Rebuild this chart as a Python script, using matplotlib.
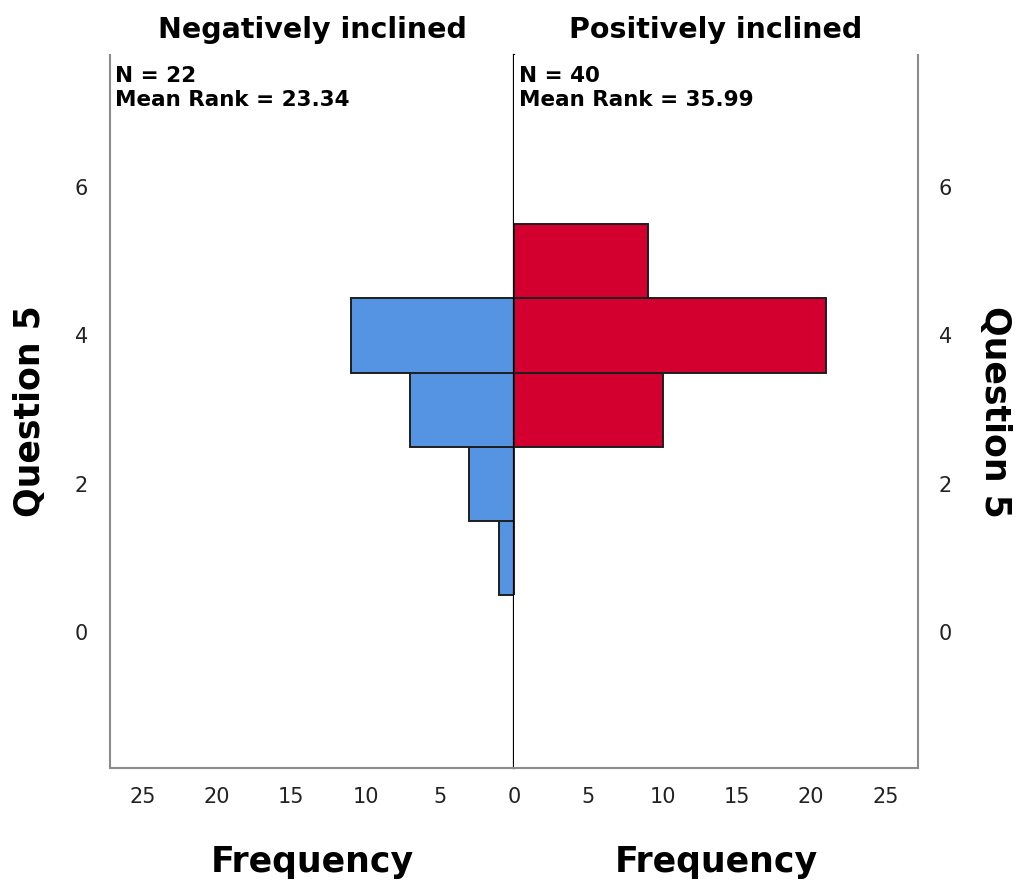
import matplotlib
matplotlib.use("Agg")
import matplotlib.pyplot as plt

# Question 5 scores and frequencies per group
scores = [1, 2, 3, 4, 5]
neg_counts = [1, 3, 7, 11, 0]
pos_counts = [0, 0, 10, 21, 9]
groups = ["Negatively inclined", "Positively inclined"]
group_notes = ["N = 22\nMean Rank = 23.34", "N = 40\nMean Rank = 35.99"]
x_ticks_left = [5, 10, 15, 20, 25]
x_ticks_right = [0, 5, 10, 15, 20, 25]
y_ticks = [0, 2, 4, 6]

blue = "#5594e3"
red = "#d3002f"
grey = "#8c8c8c"

plt.rcParams["font.family"] = "DejaVu Sans"

fig = plt.figure(figsize=(10.18, 8.85), dpi=100)
left, mid, right = 110 / 1018, 514 / 1018, 918 / 1018
bottom, top = 1 - 768 / 885, 1 - 55 / 885
axl = fig.add_axes([left, bottom, mid - left, top - bottom])
axr = fig.add_axes([mid, bottom, right - mid, top - bottom])

xmax = 27.2
ylim = (-1.83, 7.78)

axl.barh(scores, neg_counts, height=1.0, color=blue, edgecolor="#1e1e1e", linewidth=1.4)
axr.barh(scores, pos_counts, height=1.0, color=red, edgecolor="#1e1e1e", linewidth=1.4)

axl.set_xlim(xmax, 0)
axr.set_xlim(0, xmax)
axl.set_xticks(x_ticks_left)
axr.set_xticks(x_ticks_right)
for ax in (axl, axr):
    ax.set_ylim(*ylim)
    ax.set_yticks(y_ticks)
    ax.tick_params(length=0, labelsize=15, colors="#222222")
    ax.tick_params(axis="x", pad=14)
    ax.spines["top"].set_visible(False)
    ax.spines["bottom"].set_color(grey)
    ax.spines["bottom"].set_linewidth(1.5)
    ax.set_xlabel("Frequency", fontsize=25, fontweight="bold", labelpad=27)

axl.spines["left"].set_color(grey)
axl.spines["left"].set_linewidth(1.5)
axl.spines["right"].set_color("black")
axl.spines["right"].set_linewidth(1.6)
axl.tick_params(axis="y", pad=16)
axl.set_ylabel("Question 5", fontsize=25, fontweight="bold", labelpad=20)

axr.spines["left"].set_visible(False)
axr.spines["right"].set_color(grey)
axr.spines["right"].set_linewidth(1.5)
axr.yaxis.tick_right()
axr.yaxis.set_label_position("right")
axr.tick_params(axis="y", pad=15)
axr.set_ylabel("Question 5", fontsize=25, fontweight="bold", rotation=-90, labelpad=43)

for ax, title in zip((axl, axr), groups):
    ax.set_title(title, fontsize=20.5, fontweight="bold", pad=12)

for ax, note in zip((axl, axr), group_notes):
    ax.text(0.012, 0.985, note, transform=ax.transAxes, ha="left", va="top",
            fontsize=15.5, fontweight="bold", linespacing=1.3)

fig.savefig("out.png", dpi=100)
